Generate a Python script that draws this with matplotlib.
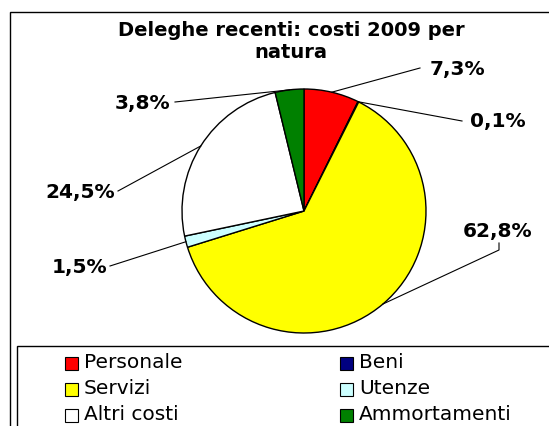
import matplotlib
matplotlib.use("Agg")
import matplotlib.pyplot as plt
from matplotlib.patches import Rectangle
import numpy as np

categories = ["Personale", "Beni", "Servizi", "Utenze", "Altri costi", "Ammortamenti"]
values = [7.3, 0.1, 62.8, 1.5, 24.5, 3.8]
colors = ["#ff0000", "#000080", "#ffff00", "#ccffff", "#ffffff", "#008000"]
labels = ["7,3%", "0,1%", "62,8%", "1,5%", "24,5%", "3,8%"]
title = "Deleghe recenti: costi 2009 per\nnatura"

W, H = 549, 426
fig = plt.figure(figsize=(W / 100, H / 100), dpi=100)
fig.patch.set_facecolor("white")

def fx(px):
    return px / W

def fy(py):
    return 1 - py / H

# outer frame
fig.patches.append(Rectangle((fx(10), fy(440)), fx(600), (440 - 12) / H,
                             transform=fig.transFigure, fill=False, lw=1.0, ec="black"))

# pie axes
cx, cy, r = 304, 211, 122
ax = fig.add_axes([fx(cx - r), fy(cy + r), 2 * r / W, 2 * r / H])
ax.axis("off")
wedges, _ = ax.pie(values, colors=colors, startangle=90, counterclock=False, radius=1,
                   wedgeprops=dict(edgecolor="black", linewidth=1.0), center=(0, 0))
ax.set_xlim(-1, 1)
ax.set_ylim(-1, 1)

# label positions (pixel), with line end points
label_pos = [(430, 70, "left", (420, 68)),
             (470, 122, "left", (462, 121)),
             (463, 232, "left", (499, 243)),
             (107, 267, "right", (110, 266)),
             (115, 192, "right", (118, 191)),
             (170, 103, "right", (175, 102))]

for w, lab, (tx, ty, ha, (lx, ly)) in zip(wedges, labels, label_pos):
    ang = np.deg2rad((w.theta1 + w.theta2) / 2)
    ex = cx + r * np.cos(ang)
    ey = cy - r * np.sin(ang)
    if lab == "62,8%":
        xs = [ex, lx, lx]
        ys = [ey, 250, ly]
    else:
        xs = [ex, lx]
        ys = [ey, ly]
    fig.add_artist(plt.Line2D([fx(v) for v in xs], [fy(v) for v in ys],
                              transform=fig.transFigure, color="black", lw=0.8))
    fig.text(fx(tx), fy(ty), lab, ha=ha, va="center", fontsize=14.5,
             fontweight="bold", family="DejaVu Sans")

fig.text(fx(291), fy(41.5), title, ha="center", va="center", fontsize=14,
         fontweight="bold", family="DejaVu Sans", linespacing=1.2)

# legend box
fig.patches.append(Rectangle((fx(17), fy(460)), fx(600), (460 - 346) / H,
                             transform=fig.transFigure, fill=False, lw=1.0, ec="black"))
col_x = [65, 340]
row_y = [363, 389, 415]
for i, (cat, col) in enumerate(zip(categories, colors)):
    c = i % 2
    rr = i // 2
    x0 = col_x[c]
    y0 = row_y[rr]
    fig.patches.append(Rectangle((fx(x0), fy(y0 + 6.5)), 13 / W, 13 / H,
                                 transform=fig.transFigure, fc=col, ec="black", lw=0.8))
    fig.text(fx(x0 + 19), fy(y0), cat, ha="left", va="center", fontsize=14.5,
             family="DejaVu Sans")

fig.savefig("out.png", dpi=100)
